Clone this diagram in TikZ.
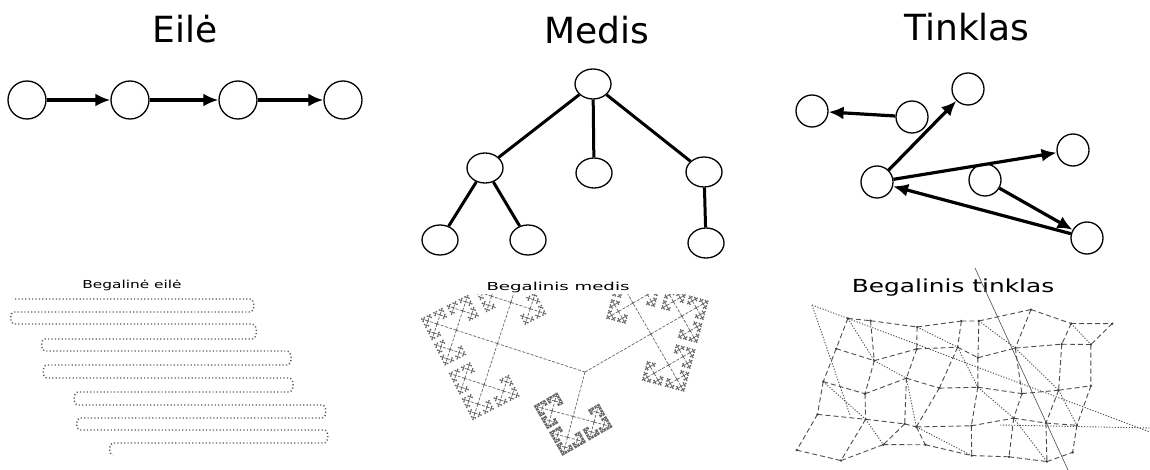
\documentclass[tikz,border=0pt]{standalone}
\usepackage{fontspec}
\setmainfont{DejaVu Sans}
\usetikzlibrary{positioning}
\usetikzlibrary{shapes.geometric}
\usetikzlibrary{arrows.meta}

% one arm of the infinite tree: x, y, angle, length, depth
\newcommand\medisarm[5]{%
  \ifnum#5>0
  \begingroup
    \edef\ox{#1}\edef\oy{#2}\edef\oa{#3}\edef\ol{#4}%
    \pgfmathsetmacro\nx{\ox+\ol*cos(\oa)}%
    \pgfmathsetmacro\ny{\oy+\ol*sin(\oa)}%
    \pgfmathsetmacro\nl{\ol*0.47}%
    \pgfmathsetmacro\al{\oa+90}%
    \pgfmathsetmacro\ar{\oa-90}%
    \pgfmathtruncatemacro\nd{#5-1}%
    \draw[twiggy] (\ox,\oy) -- (\nx,\ny);
    \fill[black!60] (\nx,\ny) circle (0.9);
    \medisarm{\nx}{\ny}{\oa}{\nl}{\nd}%
    \medisarm{\nx}{\ny}{\al}{\nl}{\nd}%
    \medisarm{\nx}{\ny}{\ar}{\nl}{\nd}%
  \endgroup
  \fi}

\begin{document}
\begin{tikzpicture}[x=1pt, y=-1pt,
    title/.style={font=\fontsize{36}{40}\selectfont, anchor=base},
    knot/.style={circle, draw, line width=1.3pt, minimum size=38pt, inner sep=0pt},
    leaf/.style={ellipse, draw, line width=1.3pt, minimum width=36pt, minimum height=30pt, inner sep=0pt},
    web/.style={circle, draw, line width=1.3pt, minimum size=32pt, inner sep=0pt},
    arr/.style={line width=3.2pt, -{Latex[length=15pt, width=13pt]}},
    branch/.style={line width=3pt},
    twiggy/.style={black!60, line width=0.7pt, dash pattern=on 3pt off 1.5pt},
    dots/.style={black!65, line width=1.4pt, dash pattern=on 1.2pt off 2.2pt},
    webdash/.style={black!70, line width=0.9pt, dash pattern=on 5pt off 3pt},
    webdot/.style={black!70, line width=0.9pt, dash pattern=on 1.2pt off 1.6pt}]
    \useasboundingbox (0,0) rectangle (1150,470);

    % titles
    \node[title] (tE) at (185,43) {Eilė};
    \node[title] (tM) at (597,44) {Medis};
    \node[title] (tT) at (967,41) {Tinklas};

    % chain
    \node[knot] (A) at (27,100) {};
    \node[knot] (B) at (130,100) {};
    \node[knot] (C) at (238,100) {};
    \node[knot] (D) at (343,100) {};
    \draw[arr] (A) -- (B);
    \draw[arr] (B) -- (C);
    \draw[arr] (C) -- (D);

    % tree
    \node[leaf] (R) at (593,84) {};
    \node[leaf] (R1) at (485,168) {};
    \node[leaf] (R2) at (594,173) {};
    \node[leaf] (R3) at (704,172) {};
    \node[leaf] (R11) at (440,240) {};
    \node[leaf] (R12) at (528,240) {};
    \node[leaf] (R31) at (706,243) {};
    \draw[branch] (R) -- (R1);
    \draw[branch] (R) -- (R2);
    \draw[branch] (R) -- (R3);
    \draw[branch] (R1) -- (R11);
    \draw[branch] (R1) -- (R12);
    \draw[branch] (R3) -- (R31);

    % network
    \node[web] (nA) at (812,111) {};
    \node[web] (nB) at (912,117) {};
    \node[web] (nC) at (968,89) {};
    \node[web] (nD) at (877,182) {};
    \node[web] (nE) at (1073,150) {};
    \node[web] (nF) at (985,180) {};
    \node[web] (nG) at (1087,238) {};
    \draw[arr] (nB) -- (nA);
    \draw[arr] (nD) -- (nC);
    \draw[arr] (nD) -- (nE);
    \draw[arr] (nF) -- (nG);
    \draw[arr] (nG) -- (nD);

    % infinite chain
    \node[font=\fontsize{11}{12}\selectfont, anchor=base] (bE) at (132,288) {\scalebox{1.4}[1]{Begalinė eilė}};
    \draw[dots] (15,299) -- (250,299) to[out=0,in=0] (250,312) -- (14,312)
        to[out=180,in=180] (14,324) -- (252,324) to[out=0,in=0] (252,339)
        -- (45,339) to[out=180,in=180] (45,351) -- (287,351) to[out=0,in=0] (287,365)
        -- (47,365) to[out=180,in=180] (47,378) -- (289,378) to[out=0,in=0] (289,392)
        -- (78,392) to[out=180,in=180] (78,405) -- (322,405) to[out=0,in=0] (322,418)
        -- (80,418) to[out=180,in=180] (80,430) -- (324,430) to[out=0,in=0] (324,443)
        -- (113,443) to[out=180,in=180] (113,455);

    % infinite tree
    \node[font=\fontsize{11}{12}\selectfont, anchor=base] (bM) at (558,290) {\scalebox{1.65}[1]{Begalinis medis}};
    \begin{scope}
      \clip (383,294) rectangle (780,470);
      \medisarm{585}{372}{198}{92}{6}
      \medisarm{585}{372}{330}{76}{6}
      \medisarm{585}{372}{105}{46}{6}
    \end{scope}

    % infinite network
    \node[font=\fontsize{18}{20}\selectfont, anchor=base] (bT) at (953,292) {\scalebox{1.38}[1]{Begalinis tinklas}};
    \pgfmathsetseed{11}
    \foreach \i in {0,...,7}
      \foreach \j in {0,...,4} {
        \pgfmathsetmacro\px{838+38*\i-8*\j+15*rand}
        \pgfmathsetmacro\py{318+34*\j+11*rand}
        \coordinate (w\i\j) at (\px,\py);
      }
    \foreach \i [count=\k] in {0,...,6}
      \foreach \j in {0,...,4}
        \draw[webdash] (w\i\j) -- (w\k\j);
    \foreach \i in {0,...,7}
      \foreach \j [count=\l] in {0,...,3}
        \draw[webdash] (w\i\j) -- (w\i\l);
    \foreach \i [count=\k] in {0,...,6}
      \foreach \j [count=\l] in {0,...,3} {
        \pgfmathtruncatemacro\odd{mod(\i+\j,2)}
        \ifnum\odd=0 \draw[webdot] (w\i\j) -- (w\k\l); \fi
      }
    \foreach \i in {0,...,7}
      \foreach \j in {0,...,4}
        \fill[black!75] (w\i\j) circle (1.3);
    \coordinate (t1) at (812,305);
    \coordinate (t2) at (1150,432);
    \coordinate (t3) at (850,415);
    \coordinate (t4) at (975,268);
    \coordinate (t5) at (1068,470);
    \coordinate (t6) at (1000,425);
    \coordinate (t7) at (1150,428);
    \draw[webdot] (t1) -- (t2);
    \draw[webdot] (t1) -- (t3);
    \draw[black!70, line width=0.6pt] (t4) -- (t5);
    \draw[webdot] (t6) -- (t7);
\end{tikzpicture}
\end{document}
